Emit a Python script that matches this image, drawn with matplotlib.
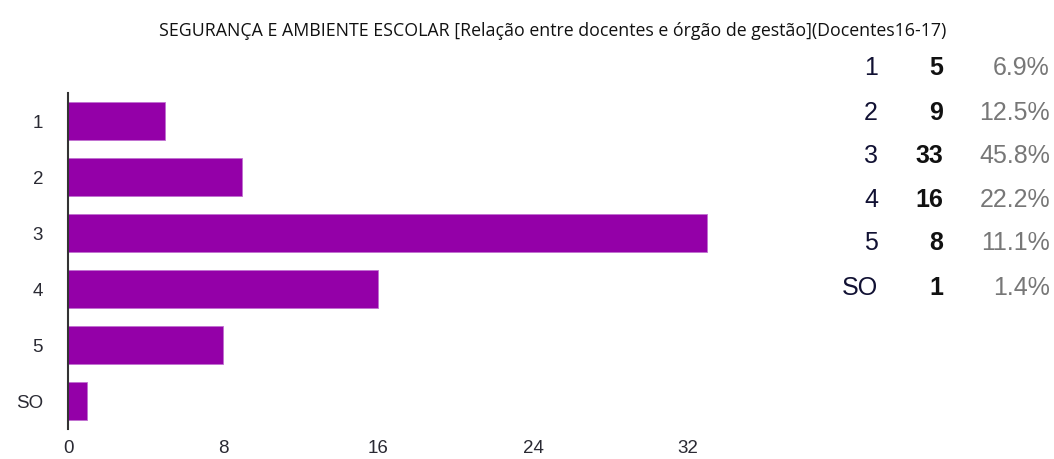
import matplotlib
matplotlib.use("Agg")
import matplotlib.pyplot as plt

labels = ["1", "2", "3", "4", "5", "SO"]
counts = [5, 9, 33, 16, 8, 1]
percents = ["6.9%", "12.5%", "45.8%", "22.2%", "11.1%", "1.4%"]
xticks = [0, 8, 16, 24, 32]

title = "SEGURANÇA E AMBIENTE ESCOLAR [Relação entre docentes e órgão de gestão](Docentes16-17)"

plt.rcParams["font.family"] = ["Liberation Sans", "DejaVu Sans"]

fig = plt.figure(figsize=(10.54, 4.59), dpi=100)
ax = fig.add_axes([68 / 1054, 30 / 459, 775 / 1054, 336 / 459])

ypos = list(range(len(labels)))
ax.barh(ypos, counts, height=0.68, color="#9400a8", edgecolor="#c070d0", linewidth=0.6)
ax.set_ylim(len(labels) - 0.5, -0.5)
ax.set_xlim(0, 40)
ax.set_yticks(ypos)
ax.set_yticklabels(labels, fontsize=13.5, color="#2a2a33")
ax.set_xticks(xticks)
ax.set_xticklabels([str(t) for t in xticks], fontsize=13.5, color="#2a2a33")
ax.tick_params(axis="both", length=0)
ax.tick_params(axis="y", pad=18)
ax.tick_params(axis="x", pad=8)
for s in ["top", "right", "bottom"]:
    ax.spines[s].set_visible(False)
ax.spines["left"].set_color("#333333")
ax.spines["left"].set_linewidth(1.5)

fig.text(553 / 1054, 1 - 31 / 459, title, ha="center", va="center",
         fontsize=12.8, family=["Open Sans", "DejaVu Sans"], color="#111111")

# summary table on the right
row_y = [68, 113, 156, 200, 243, 288]
for lab, c, p, y in zip(labels, counts, percents, row_y):
    fy = 1 - y / 459
    fig.text(878 / 1054, fy, lab, ha="right", va="center", fontsize=18, color="#111133")
    fig.text(943 / 1054, fy, str(c), ha="right", va="center", fontsize=18,
             fontweight="bold", color="#111111")
    fig.text(1050 / 1054, fy, p, ha="right", va="center", fontsize=18, color="#777777")

fig.savefig("out.png", dpi=100)
